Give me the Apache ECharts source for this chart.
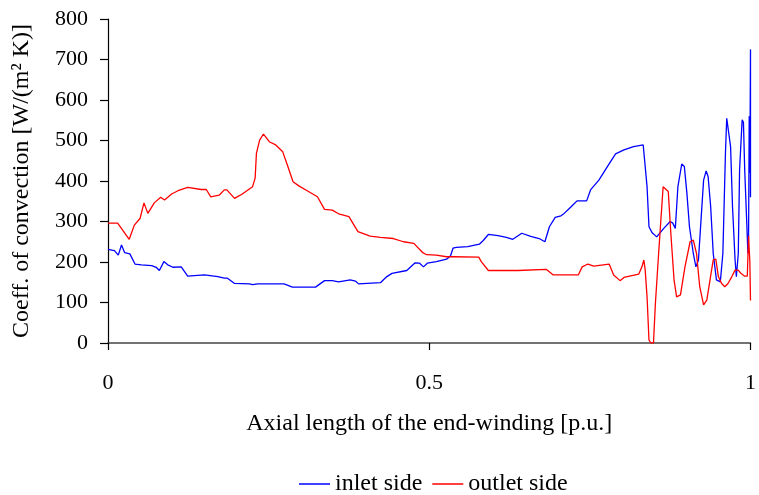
<!DOCTYPE html>
<html>
<head>
<meta charset="utf-8">
<script src="https://cdn.jsdelivr.net/npm/echarts@6/dist/echarts.min.js"></script>
<style>
    html, body { margin: 0; padding: 0; background: #fff; }
    #CoeffChart { width: 759px; height: 495px; }
</style>
</head>
<body>
<div id="CoeffChart"></div>
<script>
// axial position [p.u.] and coefficient values
var inletX = [0, 0.010, 0.016, 0.021, 0.026, 0.034, 0.042, 0.052, 0.068, 0.075, 0.080, 0.087, 0.093, 0.101, 0.114, 0.117, 0.124, 0.150, 0.171, 0.181,
    0.186, 0.197, 0.220, 0.225, 0.233, 0.274, 0.287, 0.323, 0.337, 0.349, 0.359, 0.377, 0.385, 0.390, 0.424, 0.434, 0.442, 0.465, 0.478, 0.485,
    0.491, 0.497, 0.511, 0.527, 0.533, 0.537, 0.542, 0.560, 0.578, 0.584, 0.592, 0.607, 0.620, 0.630, 0.644, 0.658, 0.671, 0.680, 0.687, 0.696,
    0.705, 0.710, 0.720, 0.730, 0.745, 0.751, 0.764, 0.777, 0.790, 0.803, 0.818, 0.833, 0.836, 0.839, 0.842, 0.847, 0.854, 0.865, 0.875, 0.879,
    0.883, 0.887, 0.893, 0.897, 0.901, 0.905, 0.911, 0.915, 0.919, 0.923, 0.927, 0.931, 0.934, 0.938, 0.942, 0.947, 0.953, 0.957, 0.961, 0.963,
    0.966, 0.969, 0.972, 0.976, 0.978, 0.981, 0.983, 0.987, 0.989, 0.991, 0.994, 0.996, 0.997, 0.998, 0.999, 1.0, 1.0];
var inletVal = [231, 228, 217, 242, 223, 220, 195, 193, 191, 187, 179, 201, 193, 187, 188, 191, 165, 168, 164, 160,
    160, 147, 146, 144, 146, 146, 138, 138, 154, 154, 151, 156, 153, 146, 149, 164, 172, 179, 198, 197,
    188, 197, 201, 207, 215, 234, 236, 238, 244, 253, 268, 265, 261, 256, 271, 263, 258, 250, 287, 310,
    314, 320, 335, 351, 351, 378, 402, 435, 467, 477, 485, 489, 489, 386, 287, 272, 262, 283, 300, 296,
    283, 386, 442, 436, 370, 287, 221, 188, 205, 304, 402, 425, 411, 337, 221, 156, 151, 221, 468, 555,
    551, 485, 337, 205, 164, 221, 427, 551, 545, 427, 304, 221, 262, 560, 420, 725, 360];

var outletX = [0, 0.015, 0.033, 0.041, 0.050, 0.056, 0.062, 0.072, 0.082, 0.088, 0.099, 0.109, 0.124, 0.145, 0.153, 0.160, 0.173, 0.181, 0.185, 0.197,
    0.209, 0.225, 0.229, 0.231, 0.236, 0.242, 0.251, 0.261, 0.272, 0.279, 0.288, 0.297, 0.310, 0.326, 0.337, 0.349, 0.359, 0.375, 0.389, 0.408,
    0.424, 0.444, 0.460, 0.476, 0.490, 0.496, 0.511, 0.527, 0.537, 0.577, 0.581, 0.592, 0.638, 0.641, 0.682, 0.693, 0.732, 0.738, 0.747, 0.756,
    0.780, 0.787, 0.797, 0.803, 0.826, 0.831, 0.834, 0.836, 0.839, 0.842, 0.845, 0.849, 0.852, 0.857, 0.864, 0.867, 0.872, 0.876, 0.881, 0.885,
    0.891, 0.898, 0.906, 0.911, 0.916, 0.921, 0.927, 0.932, 0.937, 0.942, 0.946, 0.950, 0.955, 0.960, 0.965, 0.971, 0.976, 0.981, 0.985, 0.991,
    0.995, 0.997, 0.999, 1.0];
var outletVal = [296, 296, 256, 291, 308, 346, 320, 346, 360, 353, 368, 376, 384, 379, 379, 361, 365, 378, 378, 357,
    368, 386, 407, 468, 501, 516, 497, 489, 472, 440, 398, 388, 376, 361, 330, 328, 319, 312, 275, 264,
    261, 258, 250, 246, 223, 218, 217, 213, 213, 212, 201, 179, 179, 182, 182, 168, 168, 188, 195, 190,
    195, 168, 154, 162, 170, 188, 205, 182, 114, 7, 0, 0, 98, 221, 386, 388, 374, 271, 156, 114,
    119, 188, 250, 254, 221, 139, 94, 106, 156, 205, 207, 164, 147, 139, 147, 164, 180, 180, 172, 165,
    165, 265, 200, 105];

var xTicks = [0, 0.5, 1];
var yTicks = [0, 100, 200, 300, 400, 500, 600, 700, 800];

window.onload = function () {
    GetCoeffChart();
};

function GetPairs(xs, vs) {
    var Ret = [];
    for (var i = 0; i < xs.length; i++) {
        Ret.push([xs[i], vs[i]]);
    }
    return Ret;
}

function GetCoeffChart() {
    var myChart = echarts.init(document.getElementById('CoeffChart'));
    var font = '"Liberation Serif", "Times New Roman", serif';
    var option = {
        backgroundColor: '#ffffff',
        animation: false,
        textStyle: { fontFamily: font, color: '#000' },
        grid: {
            left: 108,
            right: 4,
            top: 19,
            bottom: 152
        },
        legend: {
            left: 294,
            top: 467,
            icon: 'rect',
            itemWidth: 31,
            itemHeight: 1.5,
            itemGap: 10,
            textStyle: { fontFamily: font, fontSize: 24, color: '#000' },
            data: ['inlet side', 'outlet side']
        },
        xAxis: {
            type: 'value',
            min: xTicks[0],
            max: xTicks[xTicks.length - 1],
            interval: 0.5,
            name: 'Axial length of the end-winding [p.u.]',
            nameLocation: 'middle',
            nameGap: 69,
            nameTextStyle: { fontFamily: font, fontSize: 24, color: '#000' },
            axisLine: { lineStyle: { color: '#444', width: 1.5 } },
            axisTick: { show: true, inside: false, length: 7, lineStyle: { color: '#000', width: 1.2 } },
            axisLabel: { fontFamily: font, fontSize: 22, color: '#000', margin: 29 },
            splitLine: { show: false }
        },
        yAxis: {
            type: 'value',
            min: yTicks[0],
            max: yTicks[yTicks.length - 1],
            interval: 100,
            name: 'Coeff. of convection [W/(m\u00b2 K)]',
            nameLocation: 'middle',
            nameGap: 74,
            nameTextStyle: { fontFamily: font, fontSize: 24, color: '#000' },
            axisLine: { show: true, lineStyle: { color: '#000', width: 1.2 } },
            axisTick: { show: true, inside: false, length: 8, lineStyle: { color: '#000', width: 1.2 } },
            axisLabel: { fontFamily: font, fontSize: 22, color: '#000', margin: 20 },
            splitLine: { show: false }
        },
        series: [
            {
                name: 'inlet side',
                type: 'line',
                symbol: 'none',
                lineStyle: { color: '#0000ff', width: 1.3 },
                itemStyle: { color: '#0000ff' },
                data: GetPairs(inletX, inletVal)
            },
            {
                name: 'outlet side',
                type: 'line',
                symbol: 'none',
                lineStyle: { color: '#ff0000', width: 1.3 },
                itemStyle: { color: '#ff0000' },
                data: GetPairs(outletX, outletVal)
            }
        ]
    };
    myChart.setOption(option);
}
</script>
</body>
</html>
